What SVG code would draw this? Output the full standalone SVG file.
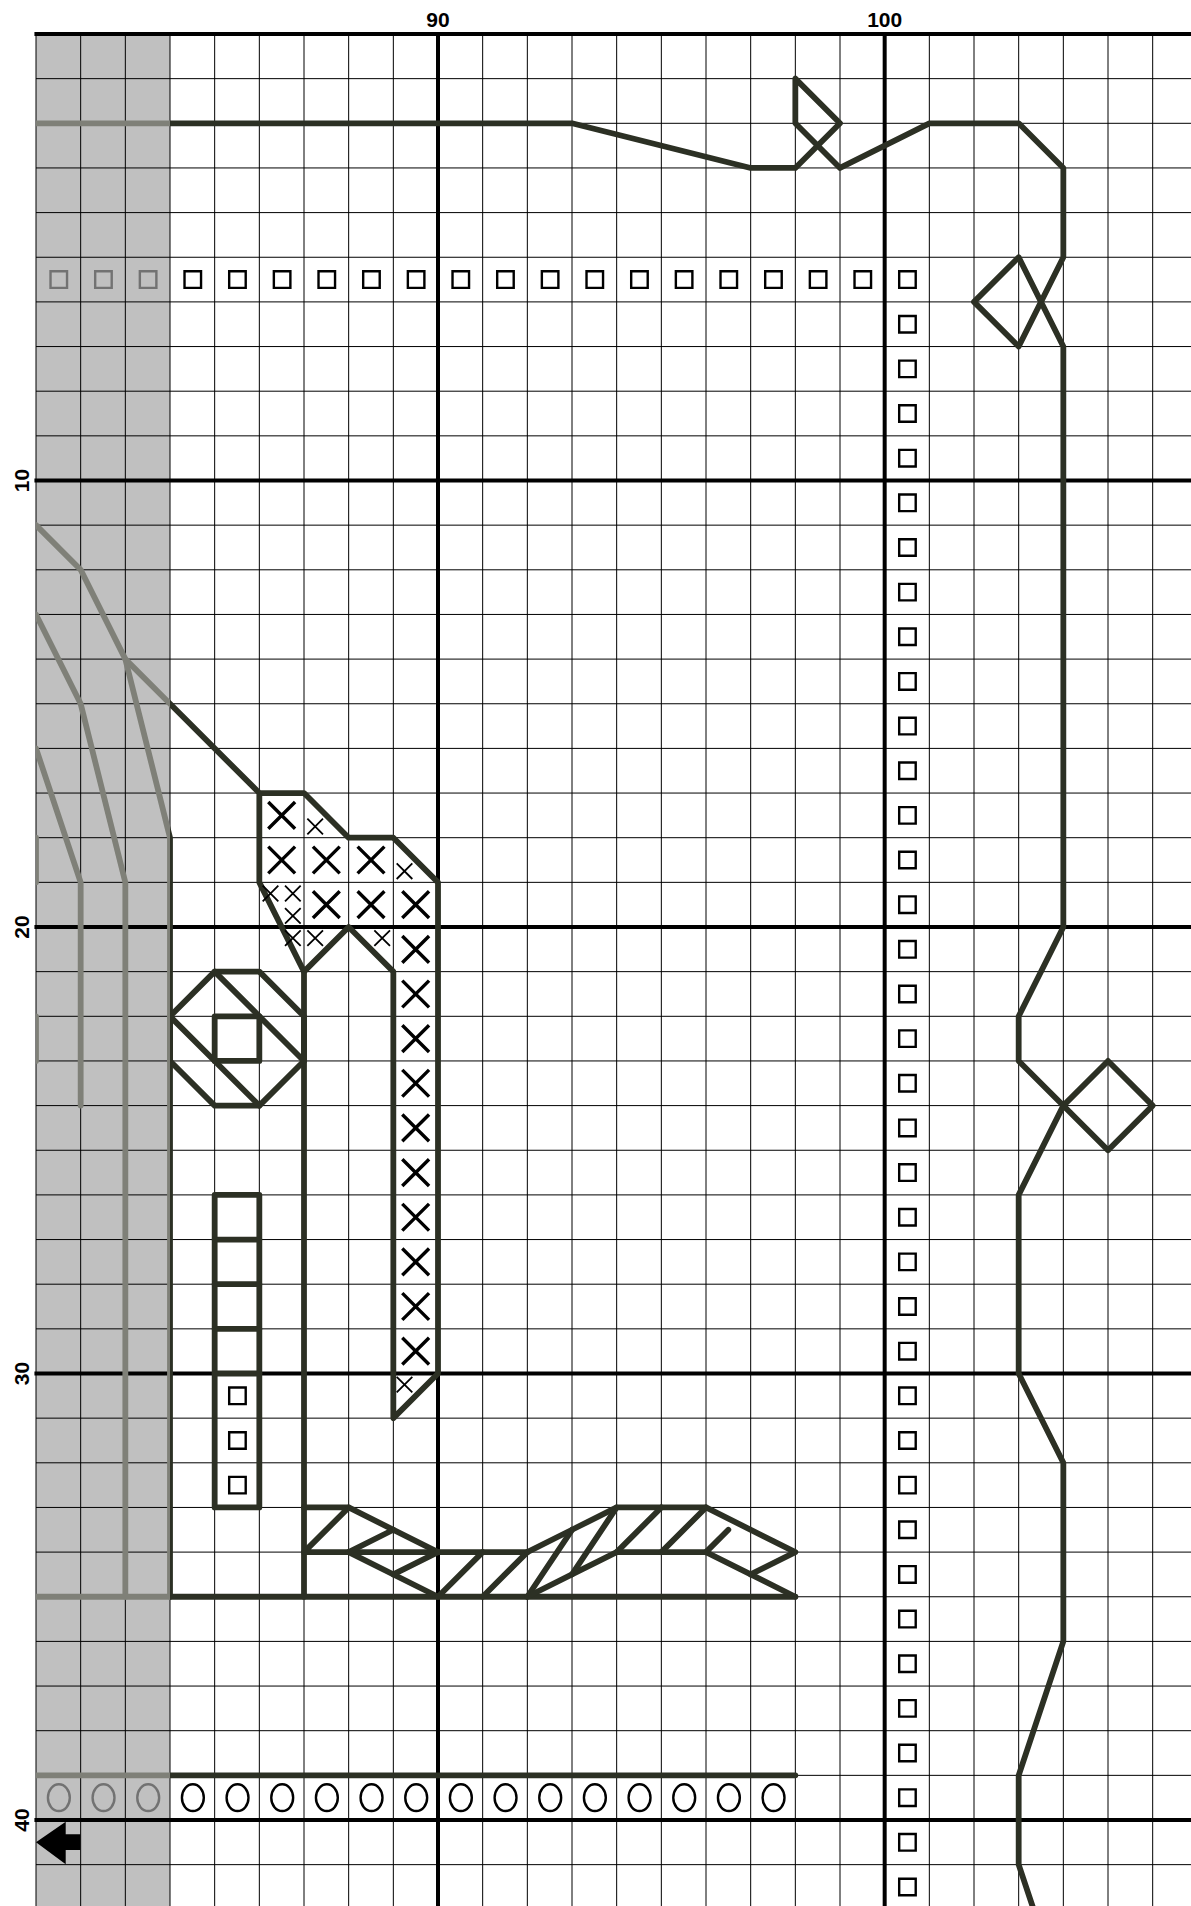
<svg xmlns="http://www.w3.org/2000/svg" xmlns:xlink="http://www.w3.org/1999/xlink" width="1191" height="1906" viewBox="0 0 1191 1906">
<style>
.minor{fill:none;stroke:#000;stroke-width:1;vector-effect:non-scaling-stroke}
.major{fill:none;stroke:#000;stroke-width:4;vector-effect:non-scaling-stroke}
.art *{fill:none;stroke:currentColor;stroke-width:5.8;stroke-linecap:round;stroke-linejoin:round;vector-effect:non-scaling-stroke}
.sq,.el{fill:none;stroke-width:2.4;vector-effect:non-scaling-stroke}
.xb{fill:none;stroke:#000;stroke-width:3.4;vector-effect:non-scaling-stroke}
.xs{fill:none;stroke:#000;stroke-width:1.8;vector-effect:non-scaling-stroke}
.k{stroke:#000}
.g{stroke:#727272}
text{font-family:"Liberation Sans",Arial,sans-serif;font-weight:bold;font-size:21px;fill:#000;text-anchor:middle}
</style>
<defs>
<clipPath id="clipDark"><rect x="3" y="-1" width="30" height="50"/></clipPath>
<clipPath id="clipGray"><rect x="0" y="-1" width="3" height="50"/></clipPath>
<rect id="s" class="sq" x="-0.175" y="-0.185" width="0.37" height="0.37"/>
<ellipse id="c" class="el" cx="0.012" rx="0.245" ry="0.3"/>
<path id="X" class="xb" d="M-.3 -.3L.3 .3M-.3 .3L.3 -.3"/>
<path id="x" class="xs" d="M-.175 -.175L.175 .175M-.175 .175L.175 -.175"/>
<g id="art" class="art">
<polyline points="0,2 12,2 16,3 17,3 18,2 17,1 17,2 18,3 20,2 22,2 23,3 23,5 22,7 21,6 22,5 23,7 23,20 22,22 22,23 24,25 25,24 24,23 23,24 22,26 22,30 23,32 23,36 22,39 22,41 23,44"/>
<polyline points="0,11 1,12 2,14 3,15 5,17 6,17 7,18 8,18 9,19 9,30 8,31 8,21 7,20 6,21 5,19 5,17"/>
<polyline points="6,21 6,35"/>
<polyline points="0,13 1,15 2,19 2,35"/>
<polyline points="2,14 3,18 3,35"/>
<polyline points="0,16 1,19 1,24"/>
<polyline points="0,18 0,19"/>
<polyline points="0,22 0,23"/>
<polyline points="0,35 17,35"/>
<polyline points="0,39 17,39"/>
<polygon points="3,22 4,21 5,21 6,22 6,23 5,24 4,24 3,23"/>
<polyline points="4,21 6,23"/>
<polyline points="3,22 5,24"/>
<rect x="4" y="22" width="1" height="1"/>
<rect x="4" y="26" width="1" height="7"/>
<path d="M4 27H5M4 28H5M4 29H5M4 30H5"/>
<polyline points="6,33 7,33 6,34 11,34"/>
<polyline points="7,33 9,34"/>
<polyline points="7,34 9,35"/>
<polyline points="8,33.5 7,34"/>
<polyline points="9,34 8,34.5"/>
<polyline points="9,35 10,34"/>
<polyline points="10,35 11,34"/>
<polyline points="11,35 12,33.5"/>
<polyline points="11,35 12,34.5 13,34 15,34 17,35"/>
<polyline points="11,34 12,33.5 13,33 15,33 17,34 16,34.5"/>
<polyline points="12,34.5 13,33"/>
<polyline points="13,34 14,33"/>
<polyline points="14,34 15,33"/>
<polyline points="15,34 15.5,33.5"/>
</g>
</defs>
<rect width="1191" height="1906" fill="#fff"/>
<g transform="translate(36 34) scale(44.667 44.65)">
<rect x="0" y="0" width="3" height="42" fill="#c0c0c0"/>
<g id="grid">
<path class="minor" d="M0 0V42M1 0V42M2 0V42M3 0V42M4 0V42M5 0V42M6 0V42M7 0V42M8 0V42M10 0V42M11 0V42M12 0V42M13 0V42M14 0V42M15 0V42M16 0V42M17 0V42M18 0V42M20 0V42M21 0V42M22 0V42M23 0V42M24 0V42M25 0V42"/>
<path class="minor" d="M0 1H26M0 2H26M0 3H26M0 4H26M0 5H26M0 6H26M0 7H26M0 8H26M0 9H26M0 11H26M0 12H26M0 13H26M0 14H26M0 15H26M0 16H26M0 17H26M0 18H26M0 19H26M0 21H26M0 22H26M0 23H26M0 24H26M0 25H26M0 26H26M0 27H26M0 28H26M0 29H26M0 31H26M0 32H26M0 33H26M0 34H26M0 35H26M0 36H26M0 37H26M0 38H26M0 39H26M0 41H26"/>
<path class="major" d="M-.035 0H26M-.035 10H26M-.035 20H26M-.035 30H26M-.035 40H26M9 0V42M19 0V42"/>
</g>
<g id="connectors">
<use xlink:href="#art" href="#art" clip-path="url(#clipDark)" style="color:#2c3024"/>
<use xlink:href="#art" href="#art" clip-path="url(#clipGray)" style="color:#7f8078"/>
</g>
<g id="squares-row" class="k">
<g class="g"><use href="#s" x=".5" y="5.5"/><use href="#s" x="1.5" y="5.5"/><use href="#s" x="2.5" y="5.5"/></g>
<use href="#s" x="3.5" y="5.5"/><use href="#s" x="4.5" y="5.5"/><use href="#s" x="5.5" y="5.5"/><use href="#s" x="6.5" y="5.5"/><use href="#s" x="7.5" y="5.5"/><use href="#s" x="8.5" y="5.5"/><use href="#s" x="9.5" y="5.5"/><use href="#s" x="10.5" y="5.5"/><use href="#s" x="11.5" y="5.5"/><use href="#s" x="12.5" y="5.5"/><use href="#s" x="13.5" y="5.5"/><use href="#s" x="14.5" y="5.5"/><use href="#s" x="15.5" y="5.5"/><use href="#s" x="16.5" y="5.5"/><use href="#s" x="17.5" y="5.5"/><use href="#s" x="18.5" y="5.5"/><use href="#s" x="19.5" y="5.5"/>
</g>
<g id="squares-column" class="k">
<use href="#s" x="19.5" y="6.5"/><use href="#s" x="19.5" y="7.5"/><use href="#s" x="19.5" y="8.5"/><use href="#s" x="19.5" y="9.5"/><use href="#s" x="19.5" y="10.5"/><use href="#s" x="19.5" y="11.5"/><use href="#s" x="19.5" y="12.5"/><use href="#s" x="19.5" y="13.5"/><use href="#s" x="19.5" y="14.5"/><use href="#s" x="19.5" y="15.5"/><use href="#s" x="19.5" y="16.5"/><use href="#s" x="19.5" y="17.5"/><use href="#s" x="19.5" y="18.5"/><use href="#s" x="19.5" y="19.5"/><use href="#s" x="19.5" y="20.5"/><use href="#s" x="19.5" y="21.5"/><use href="#s" x="19.5" y="22.5"/><use href="#s" x="19.5" y="23.5"/><use href="#s" x="19.5" y="24.5"/><use href="#s" x="19.5" y="25.5"/><use href="#s" x="19.5" y="26.5"/><use href="#s" x="19.5" y="27.5"/><use href="#s" x="19.5" y="28.5"/><use href="#s" x="19.5" y="29.5"/><use href="#s" x="19.5" y="30.5"/><use href="#s" x="19.5" y="31.5"/><use href="#s" x="19.5" y="32.5"/><use href="#s" x="19.5" y="33.5"/><use href="#s" x="19.5" y="34.5"/><use href="#s" x="19.5" y="35.5"/><use href="#s" x="19.5" y="36.5"/><use href="#s" x="19.5" y="37.5"/><use href="#s" x="19.5" y="38.5"/><use href="#s" x="19.5" y="39.5"/><use href="#s" x="19.5" y="40.5"/><use href="#s" x="19.5" y="41.5"/>
</g>
<g id="squares-box" class="k">
<use href="#s" x="4.5" y="30.5"/><use href="#s" x="4.5" y="31.5"/><use href="#s" x="4.5" y="32.5"/>
</g>
<g id="circles-row" class="k">
<g class="g"><use href="#c" x=".5" y="39.5"/><use href="#c" x="1.5" y="39.5"/><use href="#c" x="2.5" y="39.5"/></g>
<use href="#c" x="3.5" y="39.5"/><use href="#c" x="4.5" y="39.5"/><use href="#c" x="5.5" y="39.5"/><use href="#c" x="6.5" y="39.5"/><use href="#c" x="7.5" y="39.5"/><use href="#c" x="8.5" y="39.5"/><use href="#c" x="9.5" y="39.5"/><use href="#c" x="10.5" y="39.5"/><use href="#c" x="11.5" y="39.5"/><use href="#c" x="12.5" y="39.5"/><use href="#c" x="13.5" y="39.5"/><use href="#c" x="14.5" y="39.5"/><use href="#c" x="15.5" y="39.5"/><use href="#c" x="16.5" y="39.5"/>
</g>
<g id="crosses">
<use href="#X" x="5.5" y="17.5"/><use href="#X" x="5.5" y="18.5"/><use href="#X" x="6.5" y="18.5"/><use href="#X" x="7.5" y="18.5"/><use href="#X" x="6.5" y="19.5"/><use href="#X" x="7.5" y="19.5"/><use href="#X" x="8.5" y="19.5"/><use href="#X" x="8.5" y="20.5"/><use href="#X" x="8.5" y="21.5"/><use href="#X" x="8.5" y="22.5"/><use href="#X" x="8.5" y="23.5"/><use href="#X" x="8.5" y="24.5"/><use href="#X" x="8.5" y="25.5"/><use href="#X" x="8.5" y="26.5"/><use href="#X" x="8.5" y="27.5"/><use href="#X" x="8.5" y="28.5"/><use href="#X" x="8.5" y="29.5"/>
<use href="#x" x="6.25" y="17.75"/><use href="#x" x="8.25" y="18.75"/><use href="#x" x="5.25" y="19.25"/><use href="#x" x="5.75" y="19.25"/><use href="#x" x="5.75" y="19.75"/><use href="#x" x="5.75" y="20.25"/><use href="#x" x="6.25" y="20.25"/><use href="#x" x="7.75" y="20.25"/><use href="#x" x="8.25" y="30.25"/>
</g>
</g>
<polygon id="arrow" fill="#000" points="36,1842.3 65.7,1821.7 65.7,1834.3 80.3,1834.3 80.3,1850 65.7,1850 65.7,1864.3"/>
<g id="labels">
<text x="438" y="27">90</text>
<text x="884.7" y="27">100</text>
<text transform="translate(29 480.5) rotate(-90)">10</text>
<text transform="translate(29 927) rotate(-90)">20</text>
<text transform="translate(29 1373.5) rotate(-90)">30</text>
<text transform="translate(29 1820) rotate(-90)">40</text>
</g>
</svg>
